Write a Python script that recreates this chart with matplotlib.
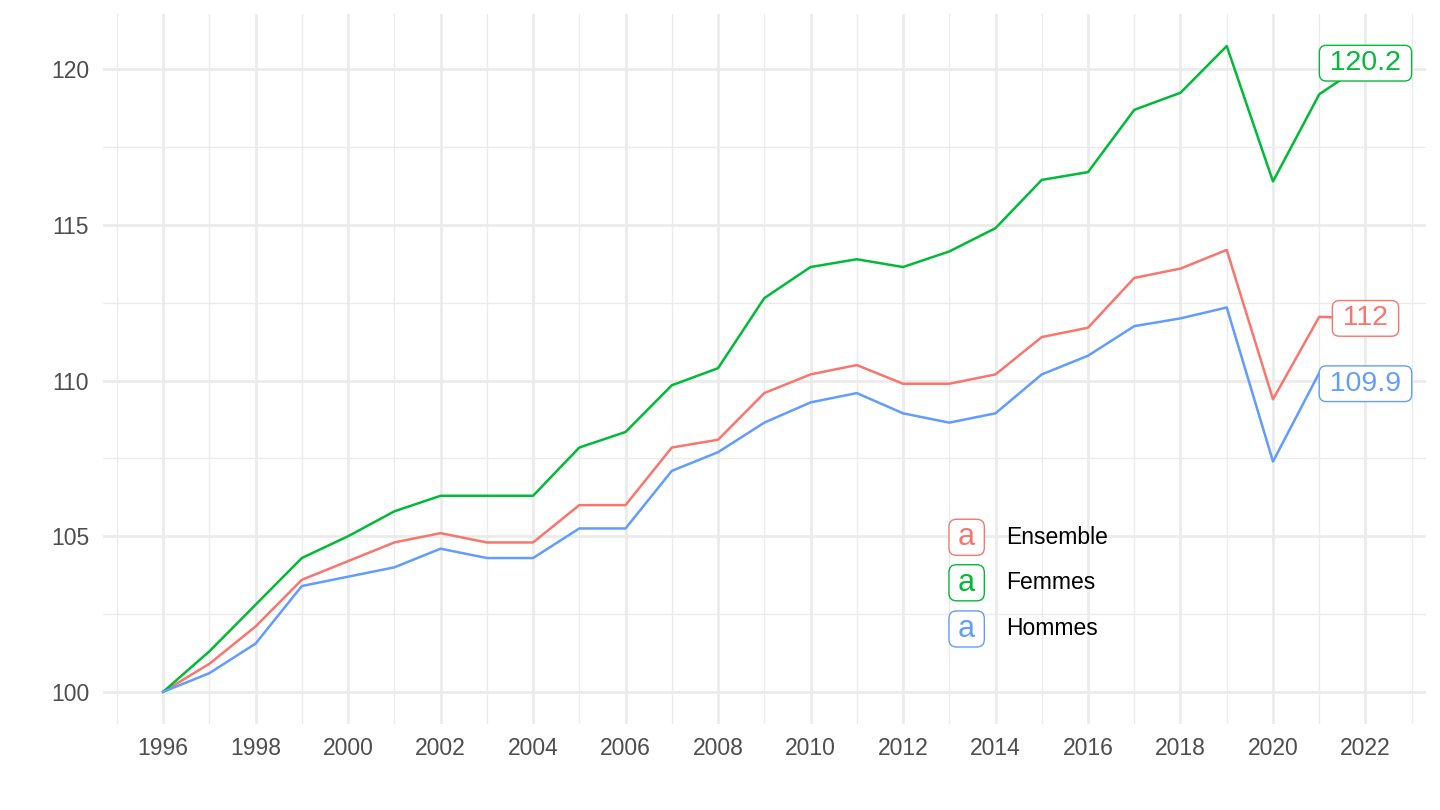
import matplotlib
matplotlib.use("Agg")
import matplotlib.pyplot as plt
from matplotlib.ticker import MultipleLocator

plt.rcParams['font.family'] = ['Liberation Sans', 'DejaVu Sans']

# Index 1996 = 100
years = list(range(1996, 2023))

ensemble = [100.0, 100.9, 102.1, 103.6, 104.2, 104.8, 105.1, 104.8, 104.8, 106.0,
            106.0, 107.85, 108.1, 109.6, 110.2, 110.5, 109.9, 109.9, 110.2, 111.4,
            111.7, 113.3, 113.6, 114.2, 109.4, 112.05, 112.0]
femmes = [100.0, 101.3, 102.8, 104.3, 105.0, 105.8, 106.3, 106.3, 106.3, 107.85,
          108.35, 109.85, 110.4, 112.65, 113.65, 113.9, 113.65, 114.15, 114.9, 116.45,
          116.7, 118.7, 119.25, 120.75, 116.4, 119.2, 120.2]
hommes = [100.0, 100.6, 101.55, 103.4, 103.7, 104.0, 104.6, 104.3, 104.3, 105.25,
          105.25, 107.1, 107.7, 108.65, 109.3, 109.6, 108.95, 108.65, 108.95, 110.2,
          110.8, 111.75, 112.0, 112.35, 107.4, 110.25, 109.9]

series_names = ["Ensemble", "Femmes", "Hommes"]
series_values = [ensemble, femmes, hommes]
colors = ["#F8766D", "#00BA38", "#619CFF"]

fig = plt.figure(figsize=(14.4, 8.1), dpi=100)
ax = fig.add_axes([0.0715, 0.106, 0.9185, 0.877])

for name, vals, col in zip(series_names, series_values, colors):
    ax.plot(years, vals, color=col, linewidth=1.8, zorder=3)
    last = vals[-1]
    # thin spaces widen the label box like geom_label padding
    txt = f"\u2009{last:g}\u2009"
    ax.text(years[-1], last, txt, color=col, fontsize=20.5, ha='center', va='center',
            zorder=5,
            bbox=dict(boxstyle="round,pad=0.17,rounding_size=0.25", fc="white",
                      ec=col, lw=1.0))

# limits with ggplot-like 5% expansion
xmin, xmax = years[0], years[-1]
ymin = min(min(v) for v in series_values)
ymax = max(max(v) for v in series_values)
dx, dy = (xmax - xmin) * 0.05, (ymax - ymin) * 0.05
ax.set_xlim(xmin - dx, xmax + dx)
ax.set_ylim(ymin - dy, ymax + dy)

ax.set_xticks(list(range(1996, 2023, 2)))
ax.xaxis.set_minor_locator(MultipleLocator(1))
ax.set_yticks([100, 105, 110, 115, 120])
ax.yaxis.set_minor_locator(MultipleLocator(2.5))

ax.grid(True, which='major', color='#EBEBEB', linewidth=2.0, zorder=0)
ax.grid(True, which='minor', color='#EBEBEB', linewidth=1.0, zorder=0)
ax.set_axisbelow(True)
for s in ax.spines.values():
    s.set_visible(False)
ax.tick_params(which='both', length=0)
ax.tick_params(axis='both', labelsize=16.5, labelcolor='#4D4D4D')
ax.tick_params(axis='x', pad=9)
ax.tick_params(axis='y', pad=10)

# legend drawn like ggplot label keys
leg_y = [0.263, 0.199, 0.134]
for name, col, yy in zip(series_names, colors, leg_y):
    ax.text(0.653, yy, "\u2009a\u2009", color=col, fontsize=22, ha='center', va='center',
            transform=ax.transAxes, zorder=5,
            bbox=dict(boxstyle="round,pad=0.1,rounding_size=0.25", fc="white",
                      ec=col, lw=1.0))
    ax.text(0.683, yy, name, color='black', fontsize=16.5, ha='left', va='center',
            transform=ax.transAxes, zorder=5)

fig.savefig("out.png", dpi=100, facecolor='white')
